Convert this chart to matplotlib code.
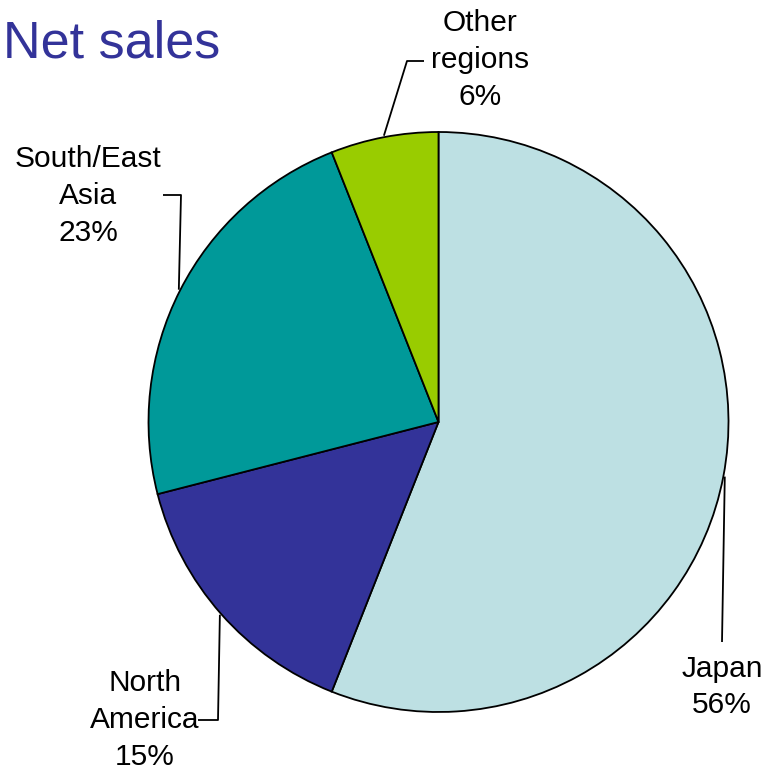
import numpy as np
import matplotlib
matplotlib.use('Agg')
import matplotlib.pyplot as plt

# ---- data ----
categories = ['Japan', 'North\nAmerica', 'South/East\nAsia', 'Other\nregions']
shares = [56, 15, 23, 6]
colors = ['#BDE0E3', '#333399', '#009999', '#99CC00']
title = 'Net sales'

# ---- layout (pixel coords, y measured from top) ----
W, H = 765, 773
center_px = (438.5, 422)
radius_px = 290
# label block centres and leader bend/end points
label_pos = [(722, 687), (145, 720), (88, 196), (480, 60)]
leader_bends = [
    [(722, 642)],
    [(218, 720), (198, 720)],
    [(181, 195), (163, 195)],
    [(407, 61), (424, 61)],
]

plt.rcParams['font.family'] = ['Liberation Sans', 'DejaVu Sans']

fig = plt.figure(figsize=(W / 100, H / 100), dpi=100)
ax = fig.add_axes([0, 0, 1, 1])

cx, cy = center_px[0], H - center_px[1]
wedges, _ = ax.pie(shares, colors=colors, startangle=90, counterclock=False,
                   center=(cx, cy), radius=radius_px,
                   wedgeprops=dict(edgecolor='black', linewidth=1.3))
ax.set_xlim(0, W)
ax.set_ylim(0, H)
ax.set_aspect('equal')
ax.axis('off')

for w, cat, share, (lx, ly), bends in zip(wedges, categories, shares, label_pos, leader_bends):
    mid = np.deg2rad((w.theta1 + w.theta2) / 2)
    sx = cx + radius_px * 1.005 * np.cos(mid)
    sy = cy + radius_px * 1.005 * np.sin(mid)
    xs = [sx] + [b[0] for b in bends]
    ys = [sy] + [H - b[1] for b in bends]
    ax.plot(xs, ys, color='black', lw=1.3, solid_capstyle='butt')
    ax.text(lx, H - ly, f'{cat}\n{share}%', ha='center', va='center',
            fontsize=21.5, color='black', linespacing=1.4)

ax.text(3, H - 57, title, ha='left', va='baseline', fontsize=37.5, color='#333399')

fig.savefig('out.png', dpi=100)
